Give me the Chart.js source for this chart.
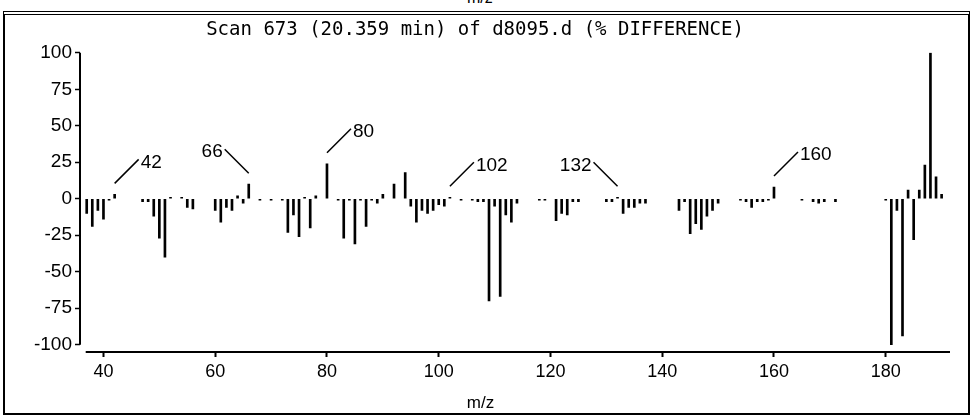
<!DOCTYPE html>
<html>
<head>
<meta charset="utf-8">
<title>Scan 673 % difference</title>
<script src="https://cdn.jsdelivr.net/npm/chart.js@4/dist/chart.umd.min.js"></script>
<style>
    html, body { margin: 0; padding: 0; background: #fff; }
    #wrap { position: relative; width: 973px; height: 416px; overflow: hidden; }
    #frame {
        position: absolute; left: 3px; top: 11px; width: 967px; height: 404px;
        box-sizing: border-box;
        border-left: 2px solid #000; border-right: 2px solid #000;
        border-bottom: 2px solid #000; border-top: 4px double #000;
    }
    #prev { position: absolute; left: 467px; top: -11px; font: 16px "Liberation Sans", sans-serif; color: #000; }
    canvas { position: absolute; left: 0; top: 0; }
</style>
</head>
<body>
<div id="wrap">
    <div id="frame"></div>
    <div id="prev">m/z</div>
    <canvas id="chart" width="973" height="416"></canvas>
</div>
<script>
// m/z values and % difference
const mzValues = [
    37, 38, 39, 40, 41, 42,
    47, 48, 49, 50, 51, 52,
    54, 55, 56,
    60, 61, 62, 63, 64, 65, 66,
    68, 70,
    72, 73, 74, 75, 76, 77, 78,
    80,
    82, 83, 84, 85, 86, 87, 88, 89, 90,
    92, 94, 95, 96, 97, 98, 99, 100, 101, 102,
    104, 106, 107, 108, 109, 110, 111, 112, 113, 114,
    118, 119, 121, 122, 123, 124, 125,
    130, 131, 132, 133, 134, 135, 136, 137,
    143, 144, 145, 146, 147, 148, 149, 150,
    154, 155, 156, 157, 158, 159, 160,
    165, 167, 168, 169, 171,
    180, 181, 182, 183, 184, 185, 186, 187, 188, 189, 190
];
const diffValues = [
    -10, -19, -8, -14, -1, 3,
    -2, -2, -12, -27, -40, 1,
    1, -6, -7,
    -8, -16, -6, -8, 2, -3, 10,
    -1, -1,
    -1, -23, -11, -26, 1, -20, 2,
    24,
    -1, -27, -1, -31, -1, -19, -1, -3, 3,
    10, 18, -5, -16, -8, -10, -8, -4, -5, 1,
    -1, -1, -2, -2, -70, -5, -67, -11, -16, -3,
    -1, -1, -15, -10, -11, -2, -2,
    -2, -2, 1, -10, -6, -6, -3, -3,
    -8, -2, -24, -17, -21, -12, -8, -3,
    -1, -2, -6, -2, -2, -1, 8,
    -1, -2, -3, -2, -2,
    -1, -100, -8, -94, 6, -28, 6, 23, 100, 15, 3
];
const peakLabels = [42, 66, 80, 102, 132, 160];
const xTicks = [40, 60, 80, 100, 120, 140, 160, 180];
const yTicks = [-100, -75, -50, -25, 0, 25, 50, 75, 100];

// which way each leader line leans (1 = up-right, -1 = up-left)
const labelLean = [1, -1, 1, 1, -1, 1];

const INK = '#000';

// axis lines (separated at the corner like the original), peak labels, axis name
const annotate = {
    id: 'annotate',
    afterDraw(chart) {
        const { ctx, chartArea, scales: { x, y } } = chart;
        ctx.save();
        ctx.strokeStyle = INK;
        ctx.lineWidth = 2;
        ctx.beginPath();
        ctx.moveTo(chartArea.left, y.getPixelForValue(yTicks[yTicks.length - 1]));
        ctx.lineTo(chartArea.left, y.getPixelForValue(yTicks[0]));
        ctx.moveTo(x.getPixelForValue(mzValues[0]) - 1, chartArea.bottom);
        ctx.lineTo(chartArea.right, chartArea.bottom);
        ctx.stroke();

        ctx.lineWidth = 1.5;
        ctx.fillStyle = INK;
        ctx.font = '19px "Liberation Sans", sans-serif';
        ctx.textBaseline = 'middle';
        peakLabels.forEach((m, i) => {
            const v = diffValues[mzValues.indexOf(m)];
            const px = x.getPixelForValue(m);
            const py = y.getPixelForValue(Math.max(v, 0)) - 11;
            const dir = labelLean[i];
            const ex = px + dir * 24, ey = py - 24;
            ctx.beginPath();
            ctx.moveTo(px, py);
            ctx.lineTo(ex, ey);
            ctx.stroke();
            ctx.textAlign = dir > 0 ? 'left' : 'right';
            ctx.fillText(String(m), ex + dir * 2, ey + 3);
        });

        // axis name sits under the page centre, not the plot centre
        ctx.font = '17px "Liberation Sans", sans-serif';
        ctx.textAlign = 'center';
        ctx.fillText('m/z', chart.width / 2 - 6, chart.height - 13);
        ctx.restore();
    }
};

new Chart(document.getElementById('chart'), {
    type: 'bar',
    data: {
        datasets: [{
            data: mzValues.map((m, i) => ({ x: m, y: diffValues[i] })),
            backgroundColor: INK,
            borderWidth: 0,
            barThickness: 2,
            grouped: false
        }]
    },
    options: {
        responsive: false,
        animation: false,
        layout: { padding: { left: 0, right: 23, top: 0, bottom: 0 } },
        plugins: {
            legend: { display: false },
            tooltip: { enabled: false },
            title: {
                display: true,
                text: 'Scan 673 (20.359 min) of d8095.d (% DIFFERENCE)',
                color: INK,
                font: { family: '"DejaVu Sans Mono", monospace', size: 19, weight: 'normal' },
                padding: { top: 19, bottom: 11 }
            }
        },
        scales: {
            x: {
                type: 'linear',
                offset: false,
                min: 35.8,
                max: 191.5,
                afterBuildTicks: s => { s.ticks = xTicks.map(v => ({ value: v })); },
                afterFit: s => { s.height = 64; },
                border: { display: false },
                grid: { display: true, offset: false, drawOnChartArea: false, drawTicks: true, tickLength: 5, tickColor: INK, tickWidth: 2 },
                ticks: { color: INK, font: { family: '"Liberation Sans", sans-serif', size: 18 }, padding: 4, autoSkip: false, maxRotation: 0 }
            },
            y: {
                min: -105,
                max: 100,
                afterBuildTicks: s => { s.ticks = yTicks.map(v => ({ value: v })); },
                afterFit: s => { s.width = 80; },
                border: { display: false },
                grid: { display: true, drawOnChartArea: false, drawTicks: true, tickLength: 5, tickColor: INK, tickWidth: 1.5 },
                ticks: { color: INK, font: { family: '"Liberation Sans", sans-serif', size: 19 }, padding: 3 }
            }
        }
    },
    plugins: [annotate]
});
</script>
</body>
</html>
